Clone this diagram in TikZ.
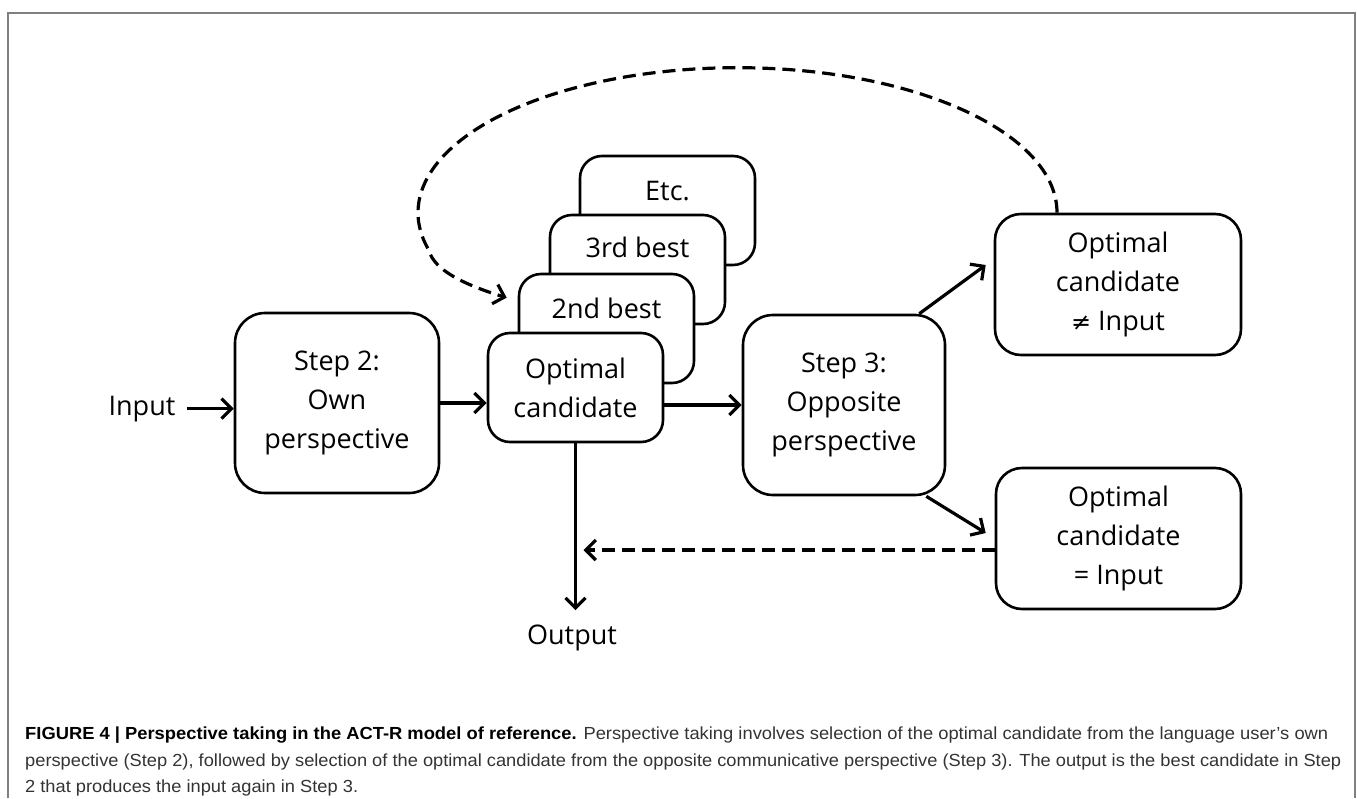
\documentclass[tikz,border=0pt]{standalone}
\usepackage{fontspec}
\setmainfont{Open Sans}
\newfontfamily\capfont{Liberation Sans}
\newfontfamily\symfont{DejaVu Sans}
\usetikzlibrary{arrows.meta,calc}
\newsavebox\capBoxA
\newsavebox\capBoxB
\newsavebox\capBoxC
\begin{document}
\sbox\capBoxA{\capfont\fontsize{17.5}{20}\selectfont\textbf{FIGURE 4 | Perspective taking in the ACT-R model of reference.} {\color{black!80}Perspective taking involves selection of the optimal candidate from the language user’s own}}%
\sbox\capBoxB{\capfont\fontsize{17.5}{20}\selectfont\color{black!80}perspective (Step 2), followed by selection of the optimal candidate from the opposite communicative perspective (Step 3). The output is the best candidate in Step}%
\sbox\capBoxC{\capfont\fontsize{17.5}{20}\selectfont\color{black!80}2 that produces the input again in Step 3.}%
\begin{tikzpicture}[x=1pt,y=-1pt,
  box/.style={draw, line width=2.6pt, rounded corners=22pt, fill=white, align=center,
    font=\fontsize{27}{39}\selectfont, inner sep=0pt},
  lbl/.style={font=\fontsize{27}{39}\selectfont, inner sep=0pt, anchor=base},
  arr/.style={line width=3.2pt, -{Straight Barb[length=10pt,width=20pt]}},
  darr/.style={arr, dash pattern=on 13pt off 7pt},
  capline/.style={anchor=base west, inner sep=0pt}]

\useasboundingbox (0,0) rectangle (1357,798);
\draw[gray, line width=2pt] (8,798) -- (8,13) -- (1355,13) -- (1355,798);

% input / output labels
\node[lbl] (in) at (142,415) {Input};
\node[lbl] (out) at (572,644) {Output};

% step 2
\node[box, rounded corners=30pt, minimum width=204pt, minimum height=180pt] (s2) at (337,403)
  {Step 2:\\Own\\perspective};

% stacked candidates
\node[box, minimum width=175pt, minimum height=109pt] (etc) at (667.5,210.5) {};
\node[lbl] (etct) at (667.5,200) {Etc.};
\node[box, minimum width=175pt, minimum height=109pt] (b3) at (637.5,269.5) {};
\node[lbl] (b3t) at (637.5,257) {3rd best};
\node[box, minimum width=175pt, minimum height=109pt] (b2) at (606.5,328.5) {};
\node[lbl] (b2t) at (606.5,318) {2nd best};
\node[box, minimum width=175pt, minimum height=109pt] (opt) at (575.5,387.5) {Optimal\\candidate};

% step 3
\node[box, rounded corners=30pt, minimum width=202pt, minimum height=180pt] (s3) at (844,405)
  {Step 3:\\Opposite\\perspective};

% results
\node[box, rounded corners=26pt, minimum width=246pt, minimum height=141pt] (tr) at (1118,284.5)
  {Optimal\\candidate\\{\symfont\fontsize{24}{39}\selectfont ≠} Input};
\node[box, rounded corners=26pt, minimum width=245pt, minimum height=141pt] (br) at (1118.5,538.5)
  {Optimal\\candidate\\= Input};

% connectors
\draw[arr] ($(in.east)+(11,0)$) -- (in.east -| s2.west);
\draw[arr] (s2.east) -- (s2.east -| opt.west);
\draw[arr] (opt.east |- s3.west) -- (s3.west);
\draw[arr] ($(s3.north east)+(-27,0)$) -- ($(tr.west)+(-8,-19.5)$);
\draw[arr] ($(s3.south east)+(-20,0)$) -- ($(br.west)+(-9,-5.5)$);
\draw[arr] (opt.south) -- ($(opt.south |- out.north)+(0,-14)$);
\coordinate (dstart) at ($(br.west)+(0,11.5)$);
\draw[darr] (dstart) -- ($(dstart -| opt.south)+(8,0)$);
\coordinate (cstart) at ($(tr.north)+(-61,0)$);
\draw[darr] (cstart) arc[start angle=0, end angle=-195, x radius=319.5, y radius=145]
  .. controls +(5,20) and (465,285) .. ($(b2.north west)+(-11,25)$);

% caption
\pgfmathsetmacro\capsx{1316/\wd\capBoxB}
\node[capline] (cap1) at (25,739) {\resizebox{1303pt}{\height}{\usebox\capBoxA}};
\node[capline] (cap2) at (25,766) {\resizebox{1316pt}{\height}{\usebox\capBoxB}};
\node[capline] (cap3) at (25,792) {\scalebox{\capsx}[1]{\usebox\capBoxC}};
\end{tikzpicture}
\end{document}
